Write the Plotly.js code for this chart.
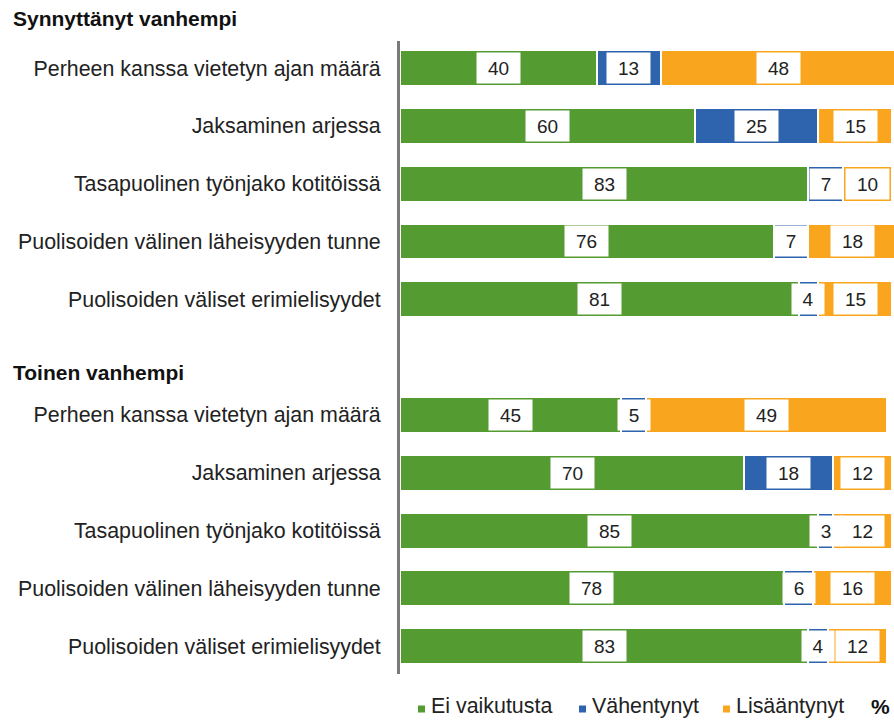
<!DOCTYPE html>
<html>
<head>
<meta charset="utf-8">
<script src="https://cdn.plot.ly/plotly-3.0.1.min.js"></script>
<style>html,body{margin:0;padding:0;background:#fff}#chart{width:894px;height:720px}</style>
</head>
<body>
<div id="chart"></div>
<script>
// ---- data ----
const groupTitles = ["Synnyttänyt vanhempi", "Toinen vanhempi"];
const itemLabels = [
  "Perheen kanssa vietetyn ajan määrä",
  "Jaksaminen arjessa",
  "Tasapuolinen työnjako kotitöissä",
  "Puolisoiden välinen läheisyyden tunne",
  "Puolisoiden väliset erimielisyydet"
];
const seriesNames = ["Ei vaikutusta", "Vähentynyt", "Lisääntynyt"];
const synnEi  = [40, 60, 83, 76, 81];
const synnVah = [13, 25, 7, 7, 4];
const synnLis = [48, 15, 10, 18, 15];
const toinEi  = [45, 70, 85, 78, 83];
const toinVah = [5, 18, 3, 6, 4];
const toinLis = [49, 12, 12, 16, 12];
const unitLabel = "%";

// ---- style / layout constants ----
const colors = ["#549b31", "#2e63ad", "#f9a61e"];
const FONT = '"Liberation Sans", Arial, sans-serif';
const W = 894, H = 720;
const M = { l: 400, r: 0, t: 41, b: 46 };
const PW = W - M.l - M.r, PH = H - M.t - M.b;
const px2x = p => (p - M.l) / PW;         // pixel -> paper x
const px2y = p => (H - M.b - p) / PH;     // pixel -> paper y
const legendMarkerX = [418, 579, 723];    // legend layout (pixels)
const legendTextX = [430, 591, 735];
const legendY = 706;

// ---- build ----
const n = itemLabels.length;
const yPos = [];
for (let i = 0; i < n; i++) yPos.push(i);
for (let i = 0; i < n; i++) yPos.push(n + 1 + i);
const ticktext = itemLabels.concat(itemLabels);
const seriesVals = [
  synnEi.concat(toinEi),
  synnVah.concat(toinVah),
  synnLis.concat(toinLis)
];

const traces = seriesVals.map((vals, k) => ({
  type: "bar",
  orientation: "h",
  name: seriesNames[k],
  x: vals,
  y: yPos,
  width: 0.62,
  marker: { color: colors[k], line: { color: "#ffffff", width: 2 } },
  hoverinfo: "x+name",
  showlegend: false
}));

const annotations = [];
for (let r = 0; r < yPos.length; r++) {
  let base = 0;
  for (let k = 0; k < seriesVals.length; k++) {
    const v = seriesVals[k][r];
    const s = String(v);
    annotations.push({
      x: base + v / 2, y: yPos[r], xref: "x", yref: "y",
      text: s, showarrow: false,
      font: { family: FONT, size: 19, color: "#222" },
      bgcolor: "#ffffff", borderpad: 2,
      width: s.length === 1 ? 28 : 39, height: 26,
      align: "center", valign: "middle"
    });
    base += v;
  }
}
// group headers
annotations.push({
  text: "<b>" + groupTitles[0] + "</b>", xref: "paper", yref: "paper",
  x: px2x(11), y: px2y(19), xanchor: "left", yanchor: "middle", showarrow: false,
  font: { family: FONT, size: 21, color: "#111" }
});
annotations.push({
  text: "<b>" + groupTitles[1] + "</b>", xref: "paper", yref: "paper",
  x: px2x(11), y: px2y(373), xanchor: "left", yanchor: "middle", showarrow: false,
  font: { family: FONT, size: 21, color: "#111" }
});
// legend (drawn as shapes + text)
const shapes = [];
seriesNames.forEach((name, k) => {
  shapes.push({
    type: "rect", xref: "paper", yref: "paper",
    x0: px2x(legendMarkerX[k]), x1: px2x(legendMarkerX[k] + 7),
    y0: px2y(legendY + 6.5), y1: px2y(legendY - 0.5),
    fillcolor: colors[k], line: { width: 0 }
  });
  annotations.push({
    text: name, xref: "paper", yref: "paper",
    x: px2x(legendTextX[k]), y: px2y(legendY), xanchor: "left", yanchor: "middle",
    borderpad: 0,
    showarrow: false, font: { family: FONT, size: 21.4, color: "#222" }
  });
});
// unit label
annotations.push({
  text: "<b>" + unitLabel + "</b>", xref: "paper", yref: "paper",
  x: px2x(891), y: px2y(legendY), xanchor: "right", yanchor: "middle", showarrow: false,
  borderpad: 0,
  font: { family: FONT, size: 21, color: "#111" }
});

const layout = {
  width: W, height: H,
  margin: { l: M.l, r: M.r, t: M.t, b: M.b, pad: 0, autoexpand: false },
  barmode: "stack",
  bargap: 0,
  paper_bgcolor: "#ffffff", plot_bgcolor: "#ffffff",
  font: { family: FONT, size: 21, color: "#222" },
  showlegend: false,
  xaxis: {
    range: [0, 100.4], visible: false, fixedrange: true
  },
  yaxis: {
    range: [10.48, -0.467],
    tickmode: "array", tickvals: yPos, ticktext: ticktext,
    showline: true, linecolor: "#7a7a7a", linewidth: 3,
    showgrid: false, zeroline: false,
    ticks: "outside", ticklen: 12, tickcolor: "rgba(0,0,0,0)",
    tickfont: { family: FONT, size: 21.4, color: "#222" },
    fixedrange: true
  },
  shapes: shapes,
  annotations: annotations
};

Plotly.newPlot("chart", traces, layout, { displayModeBar: false, staticPlot: true });
</script>
</body>
</html>
